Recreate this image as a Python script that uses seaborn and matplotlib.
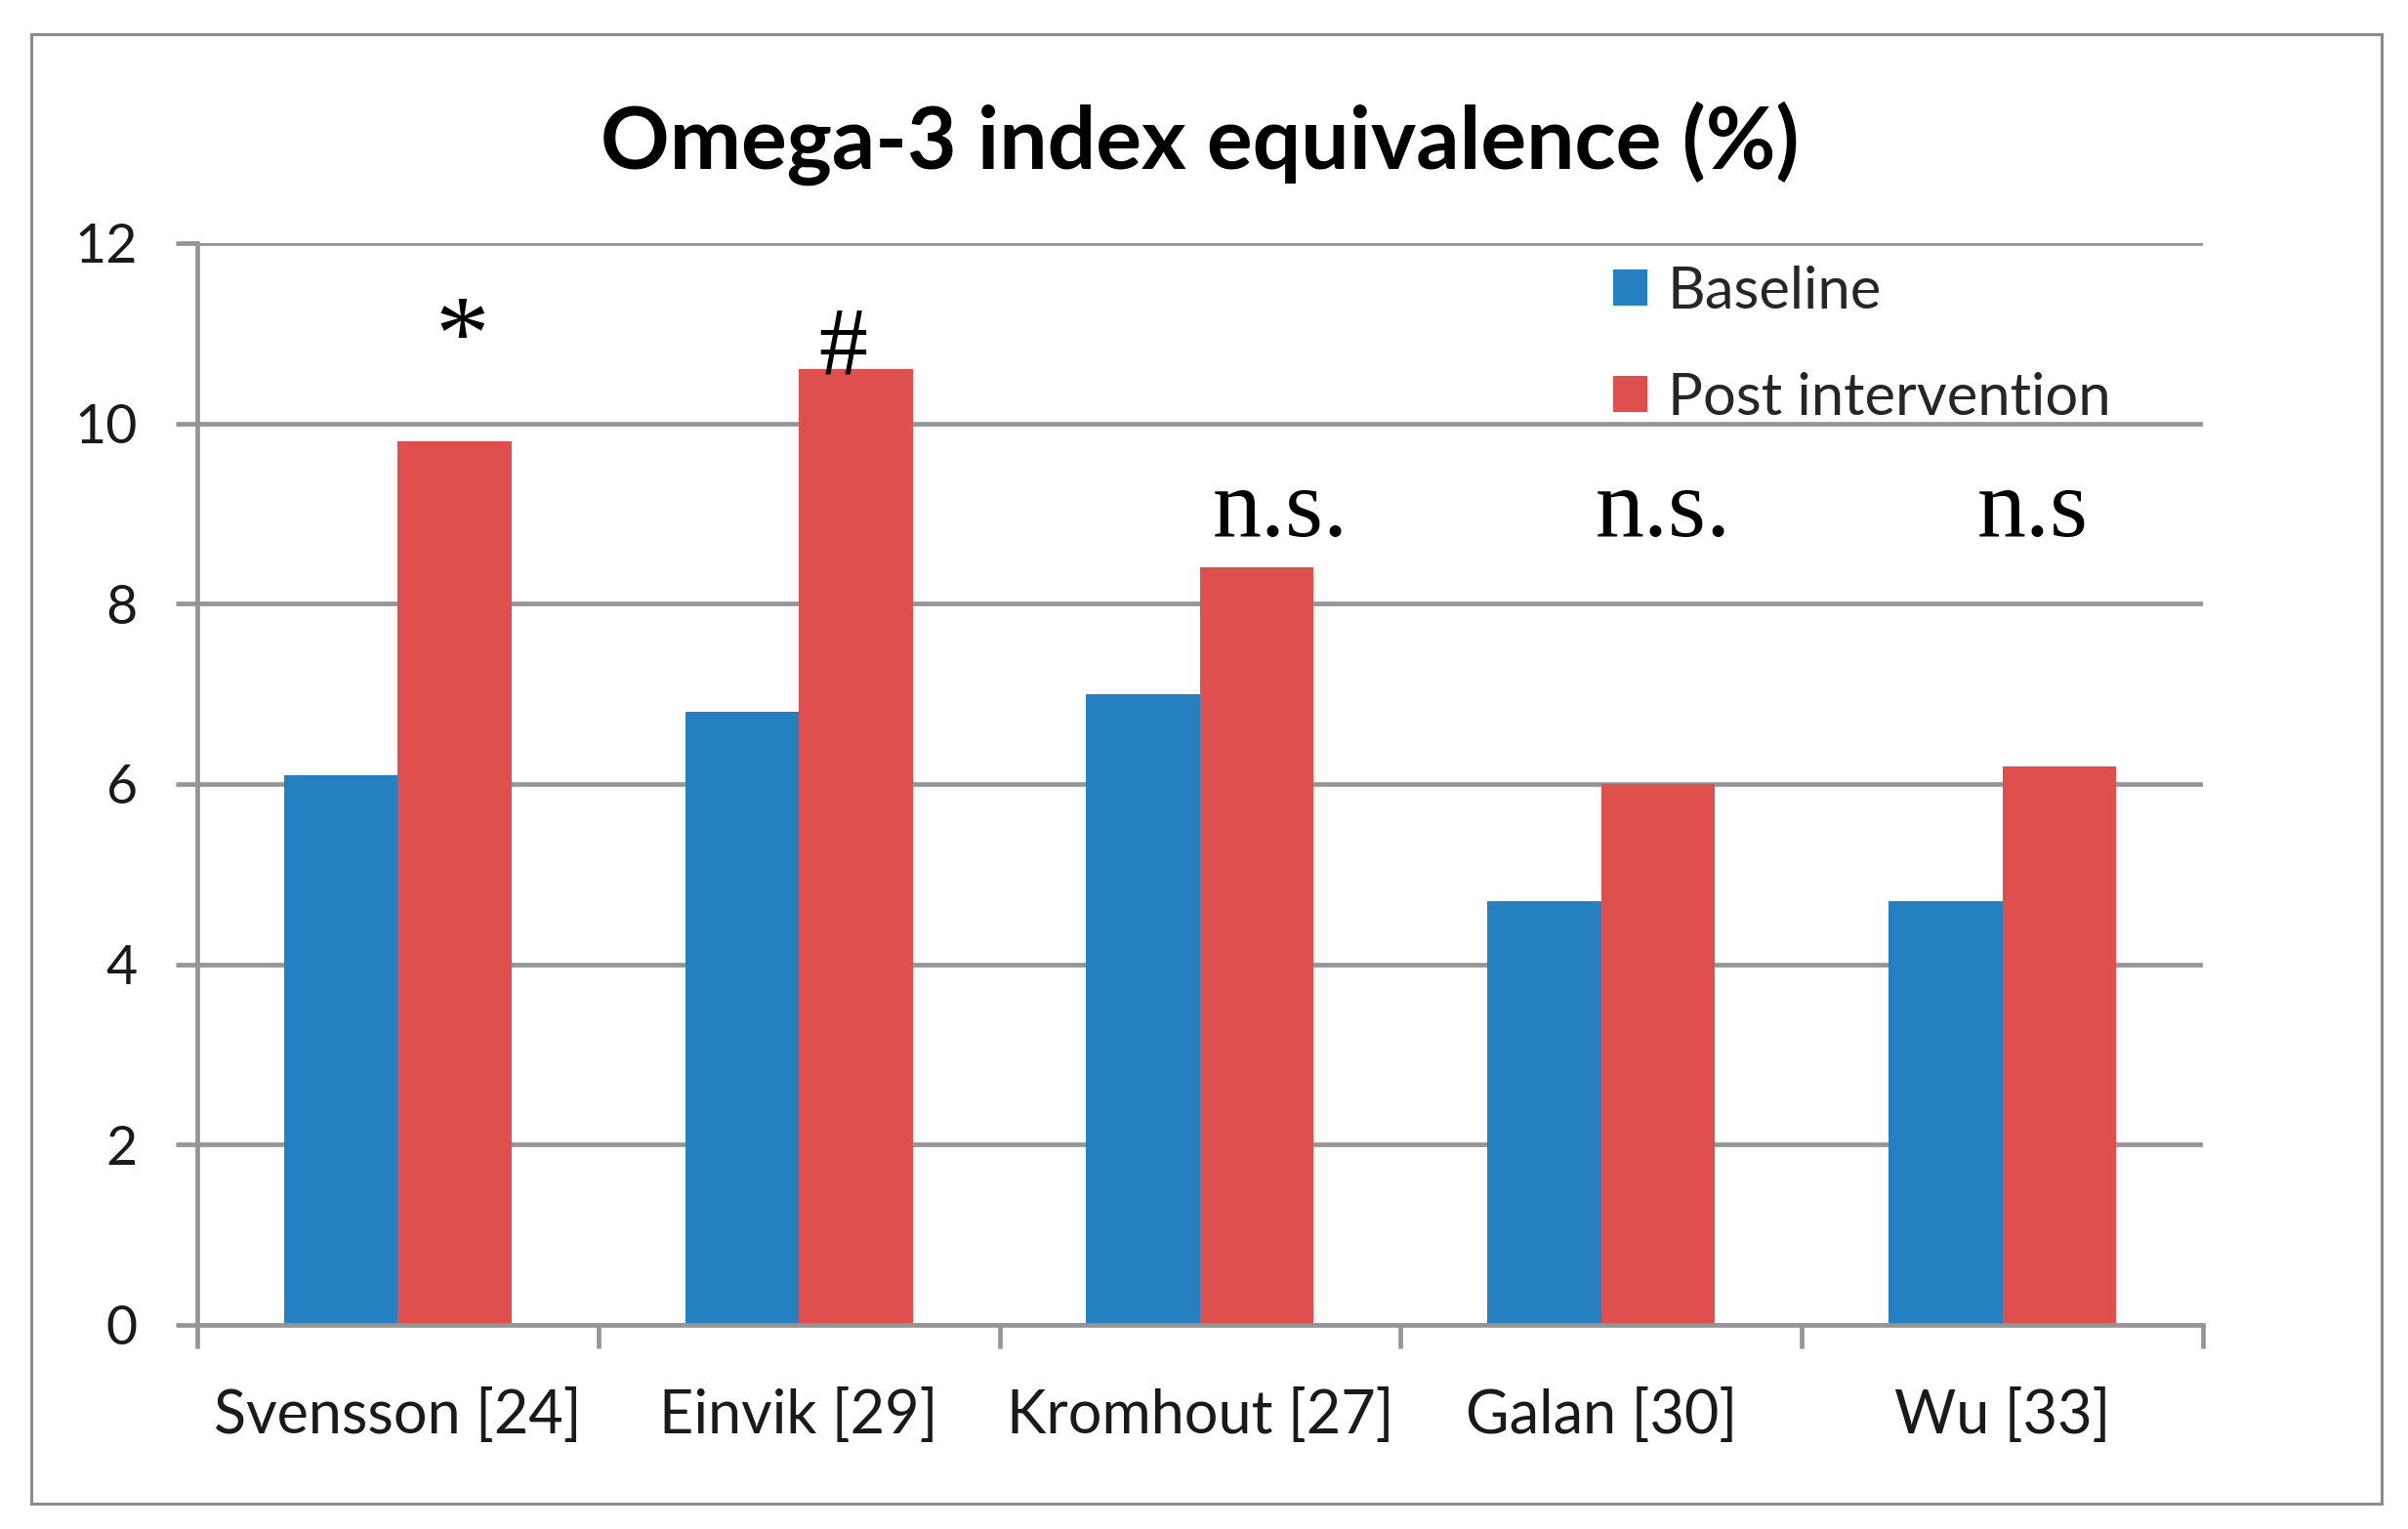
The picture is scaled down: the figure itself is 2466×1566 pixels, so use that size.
import matplotlib
matplotlib.use("Agg")
import matplotlib.pyplot as plt
import seaborn as sns
import pandas as pd
import numpy as np
from matplotlib.patches import Rectangle
from matplotlib.ticker import FixedLocator

studies = ["Svensson [24]", "Einvik [29]", "Kromhout [27]", "Galan [30]", "Wu [33]"]
groups = ["Baseline", "Post intervention"]
baseline = [6.1, 6.8, 7.0, 4.7, 4.7]
post = [9.8, 10.6, 8.4, 6.0, 6.2]
annotations = ["*", "#", "n.s.", "n.s.", "n.s"]
y_ticks = [0, 2, 4, 6, 8, 10, 12]

df = pd.DataFrame({
    "study": studies * 2,
    "group": [groups[0]] * len(studies) + [groups[1]] * len(studies),
    "value": baseline + post,
})

sns.set_style("white")
plt.rcParams["font.family"] = ["Lato", "DejaVu Sans"]

BLUE = "#2580C1"
RED = "#DE4F4D"
GRAY = "#959595"

fig = plt.figure(figsize=(24.66, 15.66), dpi=100)
ax = fig.add_axes([0.0819, 0.1335, 0.9148 - 0.0819, 0.841 - 0.1335])

sns.barplot(data=df, x="study", y="value", hue="group", order=studies,
            hue_order=groups, palette=[BLUE, RED], width=0.567, gap=0,
            saturation=1, linewidth=0, ax=ax, zorder=3)

ax.set_ylim(0, 12)
ax.set_xlim(-0.5, len(studies) - 0.5)
ax.set_yticks(y_ticks)
ax.set_xlabel("")
ax.set_ylabel("")

for s in ["top", "right"]:
    ax.spines[s].set_visible(False)
for s in ["left", "bottom"]:
    ax.spines[s].set_color(GRAY)
    ax.spines[s].set_linewidth(3.4)
    ax.spines[s].set_zorder(4)

ax.yaxis.grid(True, color=GRAY, linewidth=3.4, zorder=1)
ax.set_axisbelow(True)

ax.tick_params(axis="y", direction="out", length=16, width=3.4, color=GRAY,
               labelsize=40, pad=28, left=True)
ax.tick_params(axis="x", which="major", length=0, labelsize=44, pad=47)
ax.xaxis.set_minor_locator(FixedLocator(np.arange(-0.5, len(studies), 1.0)))
ax.tick_params(axis="x", which="minor", direction="out", length=17, width=3.4,
               color=GRAY, bottom=True)
for lab in ax.get_xticklabels() + ax.get_yticklabels():
    lab.set_color("#1a1a1a")

# annotations
ann_x = [0.16, 1.11, 2.2, 3.155, 4.075]
ann_y = [10.6, 10.55, 8.75, 8.75, 8.75]
ann_size = [80, 72, 72, 72, 72]
for txt, x, y, fs in zip(annotations, ann_x, ann_y, ann_size):
    ax.text(x, y, txt, ha="center", va="baseline", fontsize=fs,
            family=["Liberation Serif", "DejaVu Serif"], color="black", zorder=5)

ax.set_title("Omega-3 index equivalence (%)", fontsize=63, fontweight="bold",
             pad=55, color="black")

handles, labels = ax.get_legend_handles_labels()
leg = ax.legend(handles, labels, loc="upper left",
                bbox_to_anchor=(1652 / 2466, 1 - 272 / 1566),
                bbox_transform=fig.transFigure, frameon=False,
                fontsize=43, handlelength=0.58, handleheight=0.58,
                handletextpad=0.35, labelspacing=0.92, borderpad=0,
                borderaxespad=0)

fig.patches.append(Rectangle((32 / 2466, 1 - 1540 / 1566),
                             (2439 - 32) / 2466, (1540 - 35) / 1566,
                             transform=fig.transFigure, fill=False,
                             edgecolor="#8C8C8C", linewidth=2.2))

fig.savefig("out.png", dpi=100, facecolor="white")
